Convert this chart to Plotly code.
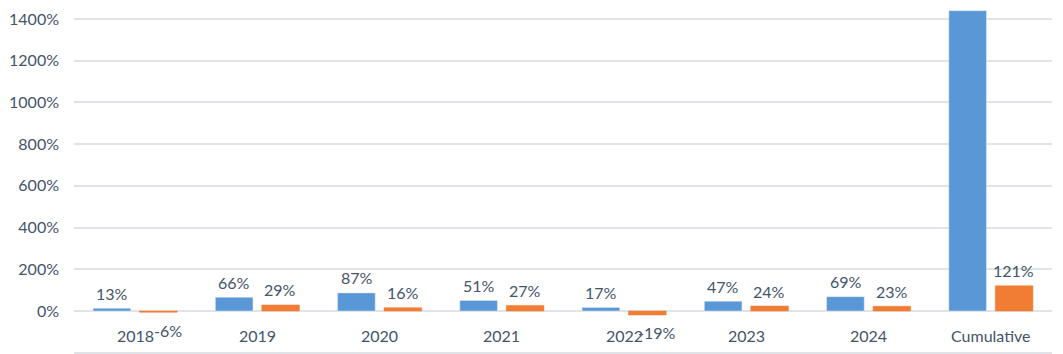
import plotly.graph_objects as go

categories = ["2018", "2019", "2020", "2021", "2022", "2023", "2024", "Cumulative"]
series_a = [13, 66, 87, 51, 17, 47, 69, 1440]
series_b = [-6, 29, 16, 27, -19, 24, 23, 121]
y_tick_values = [-200, 0, 200, 400, 600, 800, 1000, 1200, 1400]
y_tick_labels = [f"{v}%" for v in y_tick_values]

Y_MIN, Y_MAX = -206, 1491
H = 354
TEXT = "#44546A"
FONT = "Lato"
BLUE = "#5997D6"
ORANGE = "#F07D33"

fig = go.Figure()
fig.add_trace(go.Bar(name="Series A", x=categories, y=series_a, marker_color=BLUE))
fig.add_trace(go.Bar(name="Series B", x=categories, y=series_b, marker_color=ORANGE,
                     marker_line=dict(color=ORANGE, width=0.5)))

ppu = H / (Y_MAX - Y_MIN)
annotations = []
for vals, shift in ((series_a, -23), (series_b, 23)):
    for i, v in enumerate(vals):
        if (Y_MAX - v) * ppu < 22:
            continue  # label falls outside the visible area
        annotations.append(dict(
            x=i, y=v, xref="x", yref="y", text=f"{v}%", showarrow=False,
            xshift=shift if v >= 0 else shift + 10,
            yshift=15 if v >= 0 else -18, yanchor="middle",
            font=dict(family=FONT, size=16, color=TEXT),
        ))
# category labels sit just below the 0% line
for i, c in enumerate(categories):
    annotations.append(dict(
        x=i, y=0, xref="x", yref="y", text=c, showarrow=False,
        yshift=-24, yanchor="middle",
        font=dict(family=FONT, size=16, color=TEXT),
    ))

fig.update_layout(
    width=1063, height=354,
    margin=dict(l=74, r=11, t=0, b=0),
    paper_bgcolor="white", plot_bgcolor="white",
    barmode="group", bargap=0.24, bargroupgap=0.19,
    showlegend=False,
    annotations=annotations,
    font=dict(family=FONT, size=16, color=TEXT),
)
fig.update_yaxes(
    range=[Y_MIN, Y_MAX], tickvals=y_tick_values, ticktext=y_tick_labels,
    showgrid=True, gridcolor="#E0E3E8", gridwidth=2,
    zeroline=True, zerolinecolor="#E0E3E8", zerolinewidth=2,
    showline=False, ticks="", ticklabelstandoff=14,
    tickfont=dict(family=FONT, size=16, color=TEXT),
)
fig.update_xaxes(
    type="category", range=[-0.5, len(categories) - 0.5],
    showgrid=False, showline=False, ticks="", showticklabels=False,
)

fig.write_html("out.html")
